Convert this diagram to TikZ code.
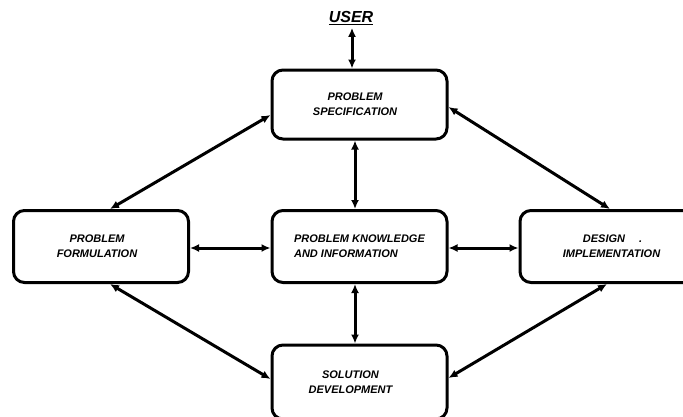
\documentclass[tikz,border=0pt]{standalone}
\usepackage{fontspec}
\setmainfont{Liberation Sans}
\usetikzlibrary{arrows.meta,calc}

\tikzset{
  block/.style={draw, line width=3pt, rounded corners=11pt,
    minimum width=175pt, minimum height=72pt, inner sep=0pt,
    font=\fontsize{11}{15}\selectfont\bfseries\itshape, align=center},
  link/.style={line width=3pt, {Latex[length=9pt,width=8pt]}-{Latex[length=9pt,width=8pt]}},
}
% pads a centred line on its right so that it sits a little left of centre
\newcommand{\leftpad}[2]{#2\hspace*{#1}}

\begin{document}
\begin{tikzpicture}[x=1pt,y=-1pt]
  \useasboundingbox (0,0) rectangle (683,416);

  % title of the outer party
  \node[font=\fontsize{16}{18}\selectfont\bfseries\itshape, inner sep=1pt] (user) at (351,18) {\underline{USER}};

  % the five blocks
  \node[block, minimum height=69pt] (ps) at (359.5,104.5)
    {\leftpad{9pt}{PROBLEM}\\\leftpad{9pt}{SPECIFICATION}};
  \node[block] (pf) at (101,246.5)
    {\leftpad{8pt}{PROBLEM}\\\leftpad{8pt}{FORMULATION}};
  \node[block, align=left] (pki) at (359.5,246.5) {PROBLEM KNOWLEDGE\\AND INFORMATION};
  \node[block] (di) at (607.5,246.5) {\hspace*{10pt}DESIGN\hspace{14pt}.\\\hspace*{8pt}IMPLEMENTATION};
  \node[block, minimum height=74pt] (sd) at (359.5,382)
    {\leftpad{18pt}{SOLUTION}\\\leftpad{18pt}{DEVELOPMENT}};

  % connectors
  \draw[link] ($(user.south)+(1,2)$) -- ($(ps.north)+(-7.5,0)$);
  \draw[link] ($(ps.south)+(-4.5,0)$) -- ($(pki.north)+(-4.5,0)$);
  \draw[link] ($(pki.south)+(-4.5,0)$) -- ($(sd.north)+(-4.5,0)$);
  \draw[link] ($(pf.east)+(0,1.5)$) -- ($(pki.west)+(0,1.5)$);
  \draw[link] ($(pki.east)+(0,1.5)$) -- ($(di.west)+(0,1.5)$);
  \draw[link] ($(ps.west)+(0,10.5)$) -- ($(pf.north)+(9,0)$);
  \draw[link] ($(ps.east)+(0,2.5)$) -- ($(di.north)+(2.5,0)$);
  \draw[link] ($(pf.south)+(9,0)$) -- ($(sd.west)+(0,-3)$);
  \draw[link] ($(di.south)+(-0.5,0)$) -- ($(sd.east)+(0,-4)$);
\end{tikzpicture}
\end{document}
